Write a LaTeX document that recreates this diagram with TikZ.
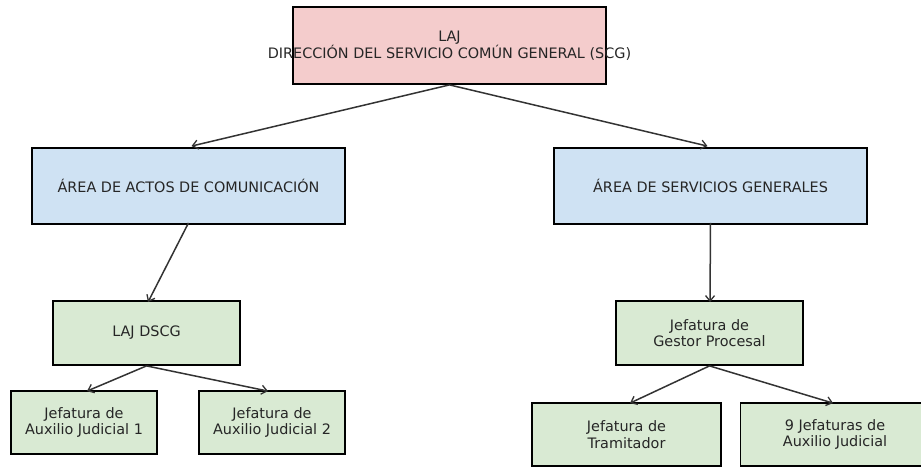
\documentclass[tikz,border=0pt]{standalone}
\usepackage{fontspec}
\setmainfont{DejaVu Sans}
\usetikzlibrary{arrows.meta}
\definecolor{pinkf}{HTML}{F4CCCC}
\definecolor{bluef}{HTML}{CFE2F3}
\definecolor{greenf}{HTML}{D9EAD3}
\definecolor{txt}{HTML}{262626}
\definecolor{lnk}{HTML}{333333}
\begin{document}
\begin{tikzpicture}[x=1pt,y=-1pt,
  box/.style={draw=black,line width=1.8pt,inner sep=0pt,align=center,text=txt,
    font=\fontsize{14.4}{16.5}\selectfont},
  big/.style={box,minimum width=313pt,minimum height=76pt},
  mid/.style={box,minimum width=187pt,minimum height=64pt,fill=greenf},
  small/.style={box,minimum width=146pt,minimum height=63pt,fill=greenf},
  wide/.style={box,minimum width=189pt,minimum height=63pt,fill=greenf},
  link/.style={draw=lnk,line width=1.5pt,-{Straight Barb[length=5.5pt,width=9pt,line width=1.3pt]}}]
\useasboundingbox (0,0) rectangle (921,468);
\clip (0,0) rectangle (921,468);
\fill[white] (0,0) rectangle (921,468);
\node[big,fill=pinkf,minimum height=77pt] (top) at (449.5,45.5) {\makebox[0pt]{LAJ}\\\makebox[0pt]{DIRECCIÓN DEL SERVICIO COMÚN GENERAL (SCG)}};
\node[big,fill=bluef] (ac) at (188.5,186) {ÁREA DE ACTOS DE COMUNICACIÓN};
\node[big,fill=bluef] (sg) at (710.5,186) {ÁREA DE SERVICIOS GENERALES};
\node[mid] (dscg) at (146.5,333) {LAJ DSCG};
\node[mid] (gp) at (709.5,333) {Jefatura de\\Gestor Procesal};
\node[small] (aj1) at (84,422.5) {Jefatura de\\Auxilio Judicial 1};
\node[small] (aj2) at (272,422.5) {Jefatura de\\Auxilio Judicial 2};
\node[wide] (tr) at (626.5,434.5) {Jefatura de\\Tramitador};
\node[wide] (nj) at (835,434.5) {9 Jefaturas de\\Auxilio Judicial};
\draw[link] (top.south) -- ([xshift=3pt,yshift=1pt]ac.north);
\draw[link] (top.south) -- ([xshift=-3pt,yshift=1pt]sg.north);
\draw[link] ([yshift=2pt]ac.south) -- ([xshift=1.5pt,yshift=-2pt]dscg.north);
\draw[link] ([yshift=2pt]sg.south) -- ([xshift=0.5pt,yshift=-2pt]gp.north);
\draw[link] (dscg.south) -- ([xshift=3pt,yshift=-1pt]aj1.north);
\draw[link] (dscg.south) -- ([xshift=-4pt,yshift=-1pt]aj2.north);
\draw[link] (gp.south) -- ([xshift=3.5pt,yshift=-1pt]tr.north);
\draw[link] (gp.south) -- ([xshift=-2pt,yshift=-1pt]nj.north);
\end{tikzpicture}
\end{document}
